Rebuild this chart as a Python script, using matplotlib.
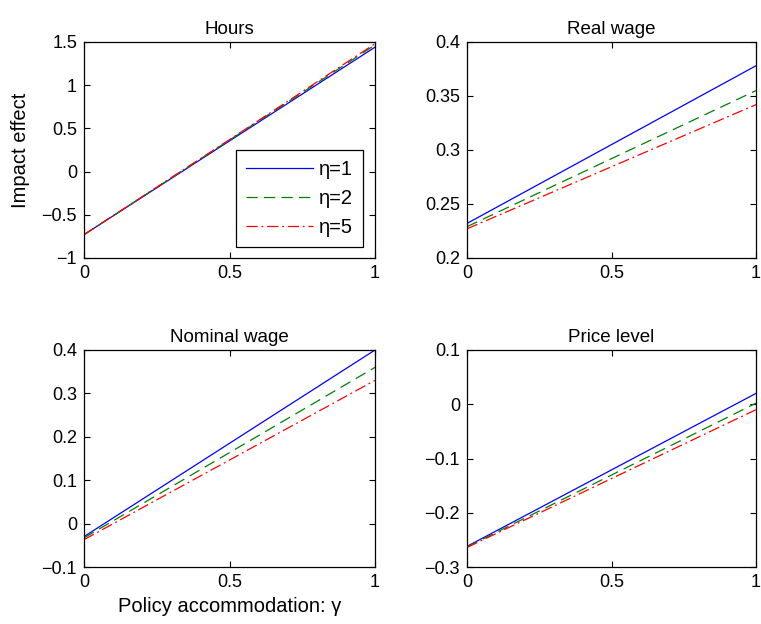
import numpy as np
import matplotlib
matplotlib.use("Agg")
import matplotlib.pyplot as plt

plt.rcParams['font.family'] = ['Liberation Sans', 'DejaVu Sans']

gamma = [0.0, 0.5, 1.0]
labels = ['η=1', 'η=2', 'η=5']

hours = {
    'η=1': [-0.73, 0.355, 1.44],
    'η=2': [-0.73, 0.365, 1.465],
    'η=5': [-0.73, 0.37, 1.48],
}
real_wage = {
    'η=1': [0.232, 0.305, 0.378],
    'η=2': [0.229, 0.292, 0.355],
    'η=5': [0.227, 0.2845, 0.342],
}
nominal_wage = {
    'η=1': [-0.030, 0.185, 0.400],
    'η=2': [-0.033, 0.1635, 0.360],
    'η=5': [-0.037, 0.1465, 0.330],
}
price_level = {
    'η=1': [-0.262, -0.121, 0.020],
    'η=2': [-0.263, -0.1305, 0.002],
    'η=5': [-0.264, -0.137, -0.010],
}

titles = ['Hours', 'Real wage', 'Nominal wage', 'Price level']
panels = [hours, real_wage, nominal_wage, price_level]
ylims = [(-1, 1.5), (0.2, 0.4), (-0.1, 0.4), (-0.3, 0.1)]
yticks = [
    [-1, -0.5, 0, 0.5, 1, 1.5],
    [0.2, 0.25, 0.3, 0.35, 0.4],
    [-0.1, 0, 0.1, 0.2, 0.3, 0.4],
    [-0.3, -0.2, -0.1, 0, 0.1],
]
ytlabels = [
    ['−1', '−0.5', '0', '0.5', '1', '1.5'],
    ['0.2', '0.25', '0.3', '0.35', '0.4'],
    ['−0.1', '0', '0.1', '0.2', '0.3', '0.4'],
    ['−0.3', '−0.2', '−0.1', '0', '0.1'],
]
styles = {
    'η=1': dict(color='#0000ff', linestyle='-'),
    'η=2': dict(color='#008000', linestyle=(0, (9, 5))),
    'η=5': dict(color='#ff0000', linestyle=(0, (9, 3, 1.5, 3))),
}

W, H = 761, 624
fig = plt.figure(figsize=(W / 100, H / 100), dpi=100)
boxes = [
    (84, 42, 375, 258),
    (467, 42, 756, 258),
    (84, 350, 375, 567),
    (467, 350, 756, 567),
]
fs = 13
fl = 14.5
for i, (x0, y0, x1, y1) in enumerate(boxes):
    ax = fig.add_axes([x0 / W, 1 - y1 / H, (x1 - x0) / W, (y1 - y0) / H])
    for lab in labels:
        ax.plot(gamma, panels[i][lab], linewidth=0.9, label=lab, **styles[lab])
    ax.set_xlim(0, 1)
    ax.set_ylim(*ylims[i])
    ax.set_xticks([0, 0.5, 1])
    ax.set_xticklabels(['0', '0.5', '1'])
    ax.set_yticks(yticks[i])
    ax.set_yticklabels(ytlabels[i])
    ax.tick_params(direction='in', top=True, right=True, labelsize=fs,
                   length=4.5, width=0.8, pad=5)
    for s in ax.spines.values():
        s.set_linewidth(0.9)
    ax.set_title(titles[i], fontsize=fs + 0.5, pad=6)
    if i == 0:
        ax.set_ylabel('Impact effect', fontsize=fl, labelpad=8)
        leg = ax.legend(loc='lower right', fontsize=fl, frameon=True,
                        fancybox=False, edgecolor='black', framealpha=1,
                        handlelength=3.3, handletextpad=0.3,
                        borderpad=0.5, labelspacing=0.5, borderaxespad=0,
                        bbox_to_anchor=(0.959, 0.051))
        leg.get_frame().set_linewidth(0.9)
    if i == 2:
        ax.set_xlabel('Policy accommodation: γ', fontsize=fl, labelpad=4)

fig.savefig('out.png', dpi=100)
